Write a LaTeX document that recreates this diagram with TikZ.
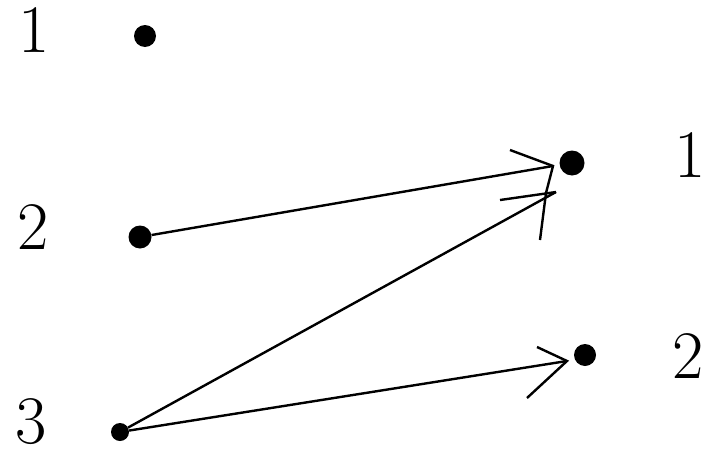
\documentclass[tikz,border=0pt]{standalone}
\begin{document}
\begin{tikzpicture}[x=1pt,y=-1pt,
  dot/.style={circle,fill=black,inner sep=0pt,minimum size=22pt},
  lab/.style={inner sep=0pt,font=\fontsize{68}{68}\selectfont},
  con/.style={line width=2.4pt},
  barb/.style={line width=2.4pt}]
\useasboundingbox (0,0) rectangle (707,450);
% labels
\node[lab] (l1) at (34,30) {1};
\node[lab] (l2) at (33,227) {2};
\node[lab] (l3) at (31,422) {3};
\node[lab] (r1) at (690,155) {1};
\node[lab] (r2) at (688,356) {2};
% dots
\node[dot] (a1) at (145,36) {};
\node[dot,minimum size=23pt] (a2) at (140,237) {};
\node[dot,minimum size=18pt] (a3) at (120,432) {};
\node[dot,minimum size=25pt] (b1) at (572,163) {};
\node[dot] (b2) at (585,355) {};
% arrow tips and barb ends
\coordinate (t1) at (553,166);
\coordinate (t2) at (556,192);
\coordinate (t3) at (567,361);
\coordinate (u1) at (510,150);
\coordinate (k1) at (546,193);
\coordinate (v1) at (540,240);
\coordinate (u2) at (500,200);
\coordinate (u3) at (537,347);
\coordinate (v3) at (527,398);
% connectors
\draw[con] (a2) -- (t1);
\draw[con] (a3) -- (t2);
\draw[con] (a3) -- (t3);
% barbs
\draw[barb] (u1) -- (t1) -- (k1) -- (v1);
\draw[barb] (u2) -- (t2);
\draw[barb] (u3) -- (t3) -- (v3);
\end{tikzpicture}
\end{document}
